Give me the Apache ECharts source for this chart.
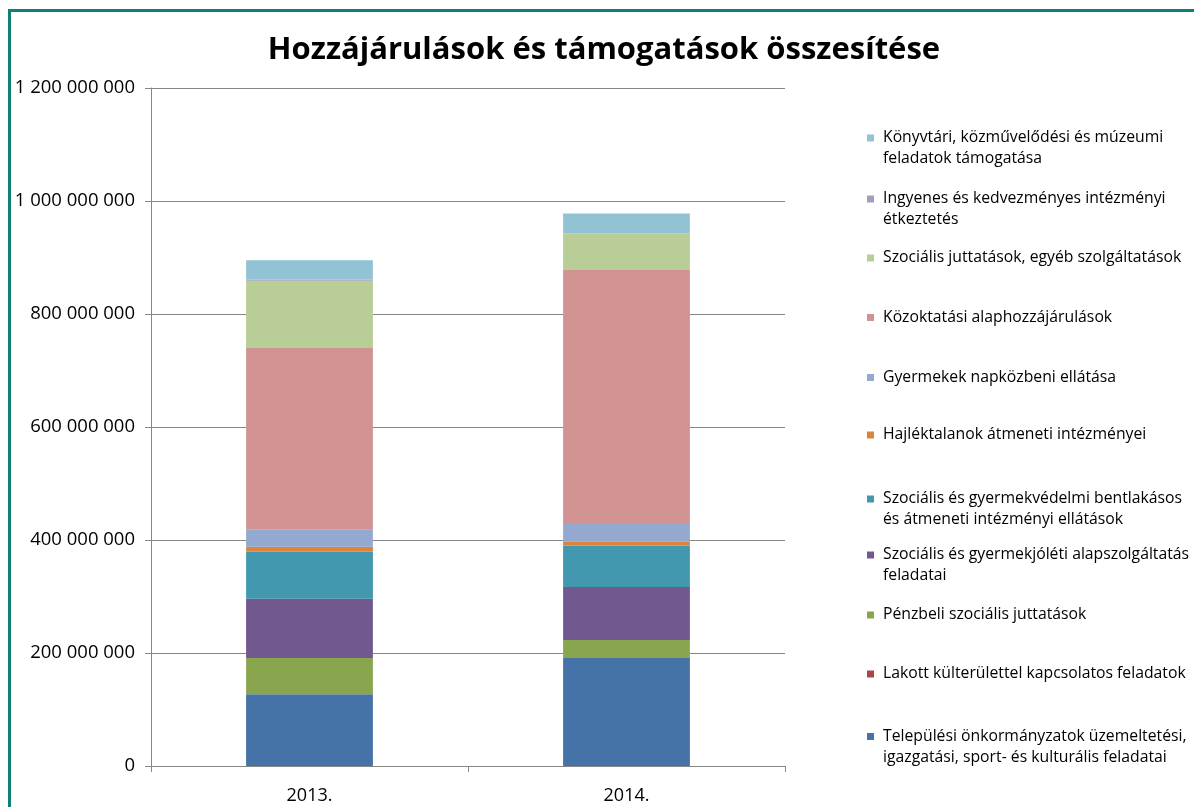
<!DOCTYPE html>
<html>
<head>
<meta charset="utf-8">
<script src="https://cdn.jsdelivr.net/npm/echarts@6/dist/echarts.min.js"></script>
<style>
html,body{margin:0;padding:0;background:#fff;}
#frame{position:absolute;left:8px;top:9px;width:1200px;height:820px;border:3px solid #0e8078;box-sizing:border-box;}
#chart{position:absolute;left:0;top:0;width:1194px;height:807px;}
</style>
</head>
<body>
<div id="frame"></div>
<div id="chart"></div>
<script>
const titleText = 'Hozzájárulások és támogatások összesítése';
const categories = ['2013.', '2014.'];
const seriesNames = [
  'Települési önkormányzatok üzemeltetési,\nigazgatási, sport- és kulturális feladatai',
  'Lakott külterülettel kapcsolatos feladatok',
  'Pénzbeli szociális juttatások',
  'Szociális és gyermekjóléti alapszolgáltatás\nfeladatai',
  'Szociális és gyermekvédelmi bentlakásos\nés átmeneti intézményi ellátások',
  'Hajléktalanok átmeneti intézményei',
  'Gyermekek napközbeni ellátása',
  'Közoktatási alaphozzájárulások',
  'Szociális juttatások, egyéb szolgáltatások',
  'Ingyenes és kedvezményes intézményi\nétkeztetés',
  'Könyvtári, közművelődési és múzeumi\nfeladatok támogatása'
];
const seriesColors = ['#4573a7','#aa4643','#89a54e','#71588f','#4198af','#db843d','#93a9cf','#d19392','#b9cd96','#a99bbd','#92c3d4'];
const values2013 = [127000000, 0, 64000000, 105000000, 83000000, 9000000, 30000000, 322000000, 119000000, 2000000, 34000000];
const values2014 = [191000000, 0, 32000000, 94000000, 73000000, 8000000, 32000000, 448000000, 65000000, 0, 35000000];
const yTicks = [0, 200000000, 400000000, 600000000, 800000000, 1000000000, 1200000000];
const legendIconCenters = [736.5, 674, 615, 555, 499, 435, 377.5, 317.5, 258, 199, 138];

const fmt = v => String(v).replace(/\B(?=(\d{3})+(?!\d))/g, ' ');
const FONT = 'Open Sans';
const LH = 21;

const series = seriesNames.map((n, i) => ({
  name: n,
  type: 'bar',
  stack: 'total',
  barCategoryGap: '60%',
  itemStyle: { color: seriesColors[i] },
  data: [values2013[i], values2014[i]]
}));

const legends = seriesNames.map((n, i) => {
  const twoLine = n.indexOf('\n') >= 0;
  return {
    data: [n],
    left: 867,
    top: legendIconCenters[i] - (twoLine ? 1.5 * LH : 0.5 * LH),
    padding: 0,
    orient: 'vertical',
    itemWidth: 7,
    itemHeight: 7,
    itemGap: 0,
    icon: 'rect',
    selectedMode: false,
    formatter: name => (name.indexOf('\n') >= 0 ? '\n' + name : name),
    textStyle: {
      fontFamily: FONT,
      fontSize: 15.75,
      color: '#000',
      lineHeight: LH,
      padding: [0, 0, 0, 4]
    }
  };
});

const chart = echarts.init(document.getElementById('chart'), null, { renderer: 'canvas' });
chart.setOption({
  animation: false,
  title: {
    text: titleText,
    left: 599,
    textAlign: 'center',
    top: 30,
    textStyle: { fontFamily: FONT, fontWeight: 'bold', fontSize: 31, color: '#000' }
  },
  legend: legends,
  grid: { left: 151, right: 409, top: 88, bottom: 41, containLabel: false },
  xAxis: {
    type: 'category',
    data: categories,
    axisLine: { lineStyle: { color: '#868686', width: 1 } },
    axisTick: { show: true, length: 6, lineStyle: { color: '#868686' }, alignWithLabel: false },
    axisLabel: { fontFamily: FONT, fontSize: 18, color: '#000', margin: 21 }
  },
  yAxis: {
    type: 'value',
    min: 0,
    max: 1200000000,
    interval: 200000000,
    axisLine: { show: true, lineStyle: { color: '#868686' } },
    axisTick: { show: true, length: 6, lineStyle: { color: '#868686' } },
    splitLine: { lineStyle: { color: '#868686', width: 1 } },
    axisLabel: { fontFamily: FONT, fontSize: 18.5, color: '#000', margin: 16, formatter: v => fmt(v) }
  },
  series: series
});
</script>
</body>
</html>
